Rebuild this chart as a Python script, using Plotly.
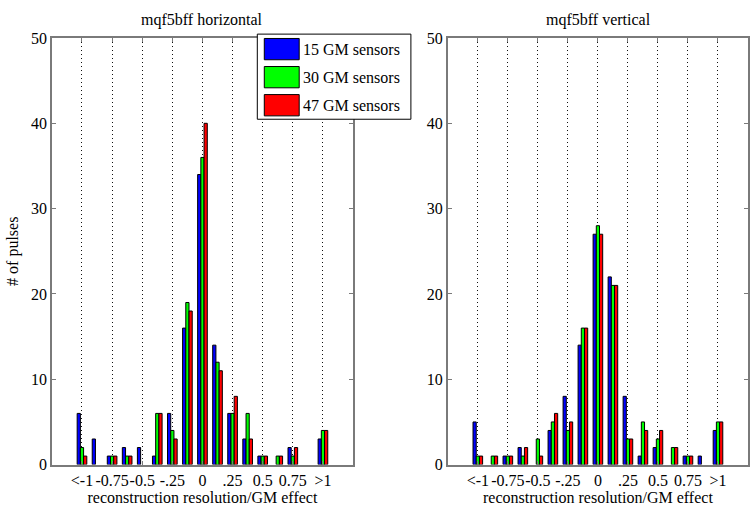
import plotly.graph_objects as go

# ---- data ----
bin_centers = [-1.0, -0.875, -0.75, -0.625, -0.5, -0.375, -0.25, -0.125, 0.0,
               0.125, 0.25, 0.375, 0.5, 0.625, 0.75, 0.875, 1.0]
series_names = ["15 GM sensors", "30 GM sensors", "47 GM sensors"]
series_colors = ["#0000FF", "#00FF00", "#FF0000"]

h_15 = [6, 3, 1, 2, 2, 1, 6, 16, 34, 14, 6, 3, 1, 0, 2, 0, 3]
h_30 = [2, 0, 1, 1, 0, 6, 4, 19, 36, 12, 6, 6, 1, 1, 1, 0, 4]
h_47 = [1, 0, 1, 1, 0, 6, 3, 18, 40, 11, 8, 3, 1, 1, 2, 0, 4]

v_15 = [5, 0, 1, 2, 0, 4, 8, 14, 27, 22, 8, 1, 2, 0, 1, 1, 4]
v_30 = [1, 1, 1, 1, 3, 5, 4, 16, 28, 21, 3, 5, 3, 2, 1, 0, 5]
v_47 = [1, 1, 1, 2, 1, 6, 5, 16, 27, 21, 3, 4, 4, 2, 1, 0, 5]

tick_vals = [-1, -0.75, -0.5, -0.25, 0, 0.25, 0.5, 0.75, 1]
tick_text = ["<-1", "-0.75", "-0.5", "-.25", "0", ".25", "0.5", "0.75", ">1"]
y_ticks = [0, 10, 20, 30, 40, 50]

titles = ["mqf5bff horizontal", "mqf5bff vertical"]
x_title = "reconstruction resolution/GM effect"
y_title = "# of pulses"

FONT = "Liberation Serif, Times New Roman, serif"
W, H = 750, 521

fig = go.Figure()
panels = [(h_15, h_30, h_47), (v_15, v_30, v_47)]
for p, data in enumerate(panels):
    xa = "x" if p == 0 else "x2"
    ya = "y" if p == 0 else "y2"
    for s, vals in enumerate(data):
        fig.add_trace(go.Bar(
            x=bin_centers, y=vals, name=series_names[s],
            marker=dict(color=series_colors[s],
                        line=dict(color="black", width=[1 if v > 0 else 0 for v in vals])),
            xaxis=xa, yaxis=ya, showlegend=False, offsetgroup=str(s)))

axis_common_x = dict(
    range=[-1.25, 1.25], tickmode="array", tickvals=tick_vals, ticktext=tick_text,
    tickangle=0, showgrid=True, gridcolor="#111111", griddash="1px,3px", gridwidth=1,
    zeroline=False, showline=True, linecolor="#7a7a7a", linewidth=1.5,
    mirror="ticks", ticks="inside", ticklen=4, tickcolor="#7a7a7a",
    tickfont=dict(family=FONT, size=16, color="black"),
    title=dict(text=x_title, font=dict(family=FONT, size=16, color="black"), standoff=3),
)
axis_common_y = dict(
    range=[0, 50], tickmode="array", tickvals=y_ticks, showgrid=False,
    zeroline=False, showline=True, linecolor="#7a7a7a", linewidth=1.5,
    mirror="ticks", ticks="inside", ticklen=4, tickcolor="#7a7a7a",
    tickfont=dict(family=FONT, size=16, color="black"),
)

y0 = 1 - 472 / H
y1 = 1 - 31 / H
fig.update_layout(
    width=W, height=H, margin=dict(l=0, r=0, t=0, b=0),
    paper_bgcolor="white", plot_bgcolor="white",
    barmode="group", bargap=0.36, bargroupgap=0,
    xaxis=dict(domain=[52 / W, 354 / W], anchor="y", **axis_common_x),
    xaxis2=dict(domain=[449 / W, 1.0], anchor="y2", **axis_common_x),
    yaxis=dict(domain=[y0, y1], anchor="x",
               title=dict(text=y_title, font=dict(family=FONT, size=16, color="black"), standoff=8),
               **axis_common_y),
    yaxis2=dict(domain=[y0, y1], anchor="x2", **axis_common_y),
)

# subplot titles
for p, t in enumerate(titles):
    cx = (52 + 354) / 2 / W if p == 0 else (449 + 751) / 2 / W
    fig.add_annotation(text=t, x=cx, y=1 - 12 / H, xref="paper", yref="paper",
                       showarrow=False, xanchor="center", yanchor="middle",
                       font=dict(family=FONT, size=16, color="black"))

# legend box (drawn like MATLAB's)
lx0, lx1, ly0, ly1 = 258, 412, 27, 115
fig.add_shape(type="rect", xref="paper", yref="paper",
              x0=lx0 / W, x1=lx1 / W, y0=1 - ly1 / H, y1=1 - ly0 / H,
              line=dict(color="black", width=1), fillcolor="white", layer="above")
row_centers = [42.5, 71.5, 100.5]
for s, name in enumerate(series_names):
    rc = row_centers[s]
    fig.add_shape(type="rect", xref="paper", yref="paper",
                  x0=265 / W, x1=300 / W, y0=1 - (rc + 11) / H, y1=1 - (rc - 11) / H,
                  line=dict(color="black", width=1), fillcolor=series_colors[s], layer="above")
    fig.add_annotation(text=name, x=302 / W, y=1 - rc / H, xref="paper", yref="paper",
                       showarrow=False, xanchor="left", yanchor="middle",
                       font=dict(family=FONT, size=16, color="black"))

fig.write_html("out.html")
